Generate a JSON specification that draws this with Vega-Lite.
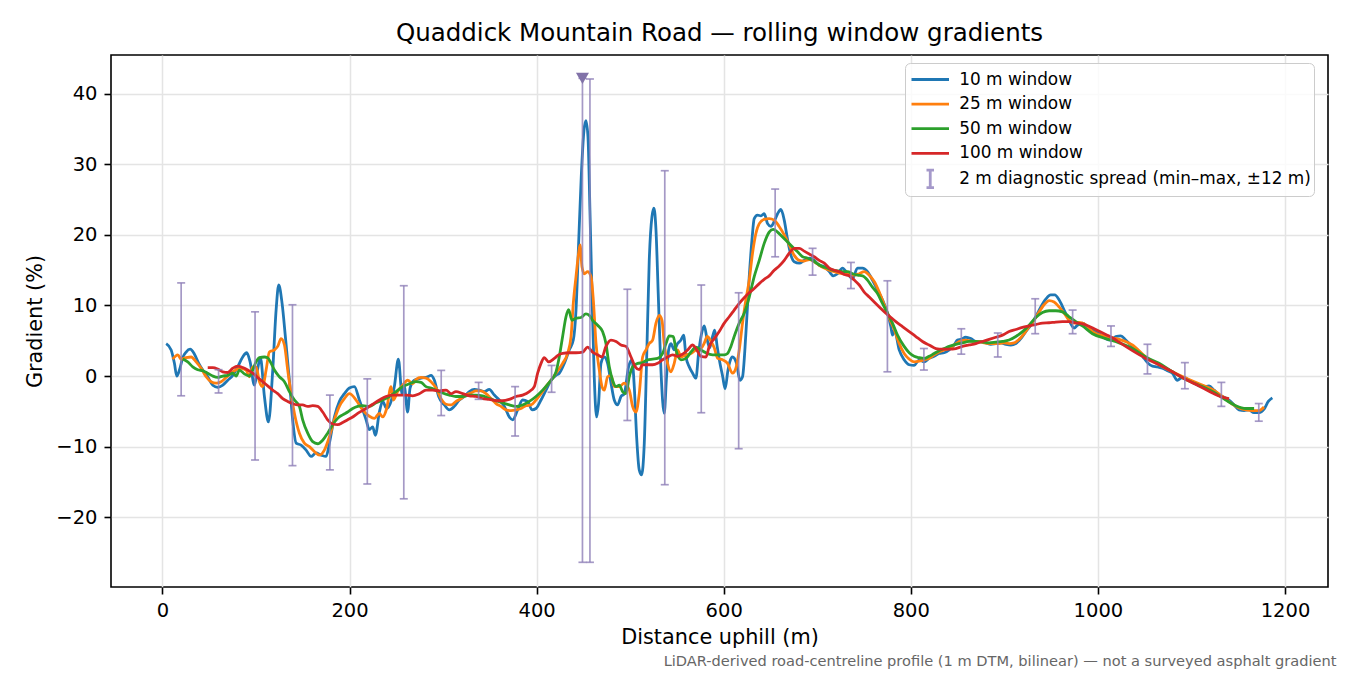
{
"$schema": "https://vega.github.io/schema/vega-lite/v6.json",
"width": 1217, "height": 532,
"autosize": {"type": "none"},
"padding": {"left": 111, "top": 55, "right": 22, "bottom": 88},
"background": "white",
"title": {"text": "Quaddick Mountain Road — rolling window gradients", "fontSize": 24.5, "font": "DejaVu Sans", "fontWeight": "normal", "color": "#000000", "anchor": "middle", "baseline": "alphabetic", "offset": -10},
"config": {
  "font": "DejaVu Sans",
  "view": {"stroke": "#000000", "strokeWidth": 1.6},
  "axis": {"labelFont": "DejaVu Sans", "labelFontSize": 19.5, "labelColor": "#000000", "titleFont": "DejaVu Sans", "titleFontSize": 20.8, "titleFontWeight": "normal", "titleColor": "#000000", "tickColor": "#000000", "tickSize": 7, "tickWidth": 1.6, "domain": false, "grid": true, "gridColor": "#e4e4e4", "gridWidth": 1.5, "labelPadding": 6},
  "legend": {"orient": "none", "legendX": 794, "legendY": 8, "padding": 2.5, "rowPadding": 2.6, "symbolSize": 625, "symbolStrokeWidth": 2.8, "symbolOpacity": 1, "symbolOffset": 8.75, "labelOffset": 15, "labelFontSize": 16.9, "labelFont": "DejaVu Sans", "labelColor": "#000000", "labelLimit": 600, "strokeColor": "#cccccc", "fillColor": "rgba(255,255,255,0.8)", "cornerRadius": 5, "symbolFillColor": "transparent"}
},
"datasets": {
"w10": [
{"x":4,"y":4.6},{"x":9.3,"y":3.7},{"x":12.8,"y":1.8},{"x":15.3,"y":0.0},{"x":18.2,"y":0.85},{"x":21.7,"y":2.6},{"x":25.3,"y":3.4},{"x":29.6,"y":3.8},{"x":34.2,"y":3.1},{"x":38.8,"y":1.8},{"x":43.1,"y":0.85},{"x":48.4,"y":-0.1},{"x":53.8,"y":-1.3},{"x":59.1,"y":-1.6},{"x":64.5,"y":-1.3},{"x":69.8,"y":-0.6},{"x":75.2,"y":0.1},{"x":80.5,"y":1.3},{"x":85.8,"y":2.7},{"x":90.1,"y":3.3},{"x":93.7,"y":2.0},{"x":98.3,"y":-1.3},{"x":101.5,"y":0.8},{"x":104.7,"y":2.6},{"x":109,"y":-2.9},{"x":113.3,"y":-6.5},{"x":117.9,"y":0.85},{"x":121.5,"y":9.35},{"x":124.3,"y":12.9},{"x":127.9,"y":10.3},{"x":131.4,"y":5.6},{"x":135.7,"y":-0.6},{"x":139.2,"y":-6.2},{"x":142.9,"y":-9.5},{"x":148.2,"y":-9.8},{"x":153.6,"y":-10.5},{"x":158.9,"y":-11.4},{"x":164.2,"y":-10.9},{"x":169.6,"y":-11.2},{"x":174.9,"y":-11.4},{"x":178.5,"y":-9.5},{"x":183.8,"y":-5.8},{"x":189.1,"y":-3.6},{"x":194.5,"y":-2.5},{"x":199.8,"y":-1.7},{"x":205.2,"y":-1.5},{"x":210.5,"y":-3.4},{"x":217.7,"y":-6.2},{"x":221.2,"y":-7.6},{"x":224.7,"y":-7.2},{"x":227.6,"y":-8.4},{"x":231.9,"y":-5.1},{"x":235.4,"y":-3.6},{"x":239.7,"y":-4.6},{"x":244.4,"y":-3.6},{"x":247.9,"y":-1.5},{"x":252.2,"y":2.4},{"x":256.1,"y":-2.5},{"x":258.6,"y":-1.5},{"x":262.1,"y":-5.1},{"x":264.7,"y":-1.7},{"x":269.3,"y":-0.6},{"x":276.4,"y":-0.3},{"x":283.5,"y":-0.1},{"x":287.1,"y":0.1},{"x":290.7,"y":-0.6},{"x":295.3,"y":-2.9},{"x":301.4,"y":-4.1},{"x":306.7,"y":-4.8},{"x":312,"y":-4.3},{"x":317.4,"y":-3.4},{"x":322.7,"y":-2.9},{"x":328.1,"y":-2.2},{"x":333.4,"y":-1.9},{"x":338.7,"y":-2.0},{"x":344.1,"y":-2.2},{"x":349.4,"y":-1.9},{"x":354.8,"y":-2.7},{"x":360.1,"y":-3.4},{"x":365.5,"y":-4.3},{"x":370.8,"y":-5.8},{"x":374.4,"y":-6.2},{"x":379.7,"y":-4.8},{"x":385,"y":-3.4},{"x":390.4,"y":-3.6},{"x":395.1,"y":-4.8},{"x":399.3,"y":-4.6},{"x":404.7,"y":-3.4},{"x":410,"y":-2.0},{"x":415.4,"y":-0.6},{"x":420.7,"y":0.1},{"x":424.2,"y":0.4},{"x":429.6,"y":1.8},{"x":434.9,"y":3.7},{"x":439.2,"y":5.1},{"x":442.1,"y":9.35},{"x":444.9,"y":18.8},{"x":447.7,"y":28.2},{"x":450.6,"y":34.8},{"x":452.7,"y":36.2},{"x":454.9,"y":33.9},{"x":457,"y":23.5},{"x":459.2,"y":11.7},{"x":461.6,"y":-0.1},{"x":464.1,"y":-5.8},{"x":466.2,"y":-3.9},{"x":468.8,"y":1.8},{"x":472.3,"y":2.7},{"x":475.9,"y":1.8},{"x":479.5,"y":-1.0},{"x":483,"y":-3.4},{"x":486.6,"y":-4.1},{"x":490.2,"y":-2.9},{"x":493.7,"y":-2.5},{"x":498.3,"y":1.3},{"x":501.9,"y":2.3},{"x":504.4,"y":-1.5},{"x":506.9,"y":-8.6},{"x":509.7,"y":-13.3},{"x":512.2,"y":-14.0},{"x":515.1,"y":-9.5},{"x":517.6,"y":2.3},{"x":520.4,"y":16.4},{"x":523.3,"y":22.6},{"x":525.4,"y":23.8},{"x":527.6,"y":20.7},{"x":530,"y":11.7},{"x":532.9,"y":0.85},{"x":536.4,"y":-5.3},{"x":538.9,"y":-0.1},{"x":541.1,"y":3.7},{"x":543.6,"y":4.6},{"x":547.1,"y":3.7},{"x":550.7,"y":4.6},{"x":554.3,"y":5.1},{"x":557.1,"y":5.8},{"x":559.7,"y":2.7},{"x":563.2,"y":1.3},{"x":566.8,"y":0.4},{"x":570.3,"y":-0.3},{"x":573.1,"y":3.2},{"x":576.3,"y":6.0},{"x":579.2,"y":7.1},{"x":582.1,"y":5.3},{"x":585,"y":4.0},{"x":588.1,"y":5.6},{"x":590.4,"y":6.5},{"x":593,"y":4.2},{"x":596,"y":1.8},{"x":598.8,"y":0},{"x":601.5,"y":-1.8},{"x":604.5,"y":0.8},{"x":606.5,"y":2.0},{"x":609.4,"y":2.7},{"x":613.7,"y":1.8},{"x":617.3,"y":-0.6},{"x":620.1,"y":-0.1},{"x":623.7,"y":6.0},{"x":627.3,"y":14.1},{"x":630.2,"y":19.3},{"x":632.6,"y":22.3},{"x":636.2,"y":22.8},{"x":639.8,"y":22.7},{"x":643.3,"y":23.0},{"x":646.9,"y":21.6},{"x":650.5,"y":21.2},{"x":654,"y":21.9},{"x":657.6,"y":23.0},{"x":661.2,"y":23.6},{"x":664.7,"y":22.1},{"x":668.3,"y":19.3},{"x":671.9,"y":17.1},{"x":675.4,"y":16.2},{"x":680.8,"y":16.0},{"x":686.1,"y":16.4},{"x":691.4,"y":16.7},{"x":696.8,"y":16.4},{"x":702.1,"y":15.7},{"x":707.5,"y":15.5},{"x":712.8,"y":14.8},{"x":717.1,"y":14.2},{"x":721.7,"y":14.5},{"x":727,"y":15.3},{"x":732.4,"y":14.5},{"x":737.7,"y":13.8},{"x":743,"y":15.3},{"x":748.4,"y":15.3},{"x":753.7,"y":14.8},{"x":759,"y":13.6},{"x":764.4,"y":12.2},{"x":769.7,"y":10.8},{"x":775.1,"y":8.9},{"x":778.7,"y":7.0},{"x":780.4,"y":5.8},{"x":782.5,"y":6.5},{"x":787.6,"y":3.7},{"x":792.9,"y":2.3},{"x":798.3,"y":1.6},{"x":803.6,"y":1.5},{"x":809,"y":2.3},{"x":814.3,"y":2.0},{"x":819.6,"y":2.5},{"x":825,"y":2.8},{"x":830.3,"y":3.2},{"x":835.7,"y":3.3},{"x":841,"y":3.7},{"x":846.3,"y":4.4},{"x":849.9,"y":5.1},{"x":853.5,"y":5.2},{"x":858.8,"y":5.5},{"x":864.2,"y":5.3},{"x":869.5,"y":4.9},{"x":874.9,"y":4.9},{"x":880.2,"y":4.7},{"x":885.5,"y":4.5},{"x":890.9,"y":4.6},{"x":896.2,"y":4.7},{"x":901.6,"y":4.5},{"x":906.9,"y":4.4},{"x":912.3,"y":4.6},{"x":917.6,"y":5.3},{"x":922.9,"y":6.3},{"x":928.3,"y":7.2},{"x":933.6,"y":8.4},{"x":939,"y":9.8},{"x":944.3,"y":10.9},{"x":949.6,"y":11.5},{"x":953.9,"y":11.5},{"x":958.5,"y":10.8},{"x":963.9,"y":9.35},{"x":969.2,"y":7.9},{"x":974.6,"y":6.8},{"x":978.1,"y":7.2},{"x":983.5,"y":7.5},{"x":988.8,"y":7.0},{"x":994,"y":6.5},{"x":1001.3,"y":6.0},{"x":1008.4,"y":5.3},{"x":1013.8,"y":5.1},{"x":1019.1,"y":5.6},{"x":1024.5,"y":5.7},{"x":1029.8,"y":5.1},{"x":1035.2,"y":4.4},{"x":1040.5,"y":3.9},{"x":1045.8,"y":3.2},{"x":1049.4,"y":2.5},{"x":1053,"y":1.9},{"x":1058.3,"y":1.4},{"x":1063.6,"y":1.3},{"x":1069,"y":1.1},{"x":1074.3,"y":0.75},{"x":1079.7,"y":0.4},{"x":1085,"y":-0.6},{"x":1088.6,"y":-0.3},{"x":1092.1,"y":-0.2},{"x":1097.5,"y":-0.6},{"x":1102.8,"y":-1.0},{"x":1108.2,"y":-1.4},{"x":1113.5,"y":-1.5},{"x":1118.8,"y":-1.4},{"x":1124.2,"y":-2.0},{"x":1129.5,"y":-2.7},{"x":1134.9,"y":-3.0},{"x":1140.2,"y":-3.4},{"x":1145.6,"y":-4.1},{"x":1150.9,"y":-4.8},{"x":1156.3,"y":-4.9},{"x":1161.6,"y":-4.8},{"x":1166.9,"y":-5.2},{"x":1172.3,"y":-5.2},{"x":1177.6,"y":-4.7},{"x":1182.2,"y":-3.6},{"x":1186.5,"y":-3.1}
],
"w25": [
{"x":11,"y":2.4},{"x":16.4,"y":3.0},{"x":20,"y":2.4},{"x":25.3,"y":2.6},{"x":30.7,"y":2.7},{"x":36,"y":2.0},{"x":41.4,"y":1.1},{"x":46.7,"y":-0.1},{"x":52,"y":-0.8},{"x":57.4,"y":-1.0},{"x":62.7,"y":-0.8},{"x":68.1,"y":-0.2},{"x":73.4,"y":0.4},{"x":78.8,"y":0.9},{"x":84.1,"y":1.1},{"x":89.4,"y":0.85},{"x":93,"y":-0.1},{"x":96.5,"y":1.3},{"x":100.1,"y":1.3},{"x":103.7,"y":-0.8},{"x":107.2,"y":-1.5},{"x":110.8,"y":0.85},{"x":114.3,"y":3.4},{"x":119.7,"y":3.7},{"x":123.2,"y":4.2},{"x":126.8,"y":5.3},{"x":130.4,"y":4.4},{"x":133.9,"y":0.85},{"x":137.5,"y":-2.5},{"x":141.1,"y":-5.3},{"x":146.4,"y":-8.1},{"x":151.7,"y":-9.5},{"x":157.1,"y":-10.0},{"x":162.4,"y":-10.7},{"x":167.8,"y":-11.2},{"x":173.1,"y":-10.5},{"x":178.5,"y":-8.6},{"x":183.8,"y":-6.2},{"x":189.1,"y":-4.3},{"x":194.5,"y":-3.2},{"x":199.8,"y":-2.5},{"x":207,"y":-3.4},{"x":214,"y":-4.8},{"x":221.2,"y":-5.7},{"x":226.5,"y":-6.0},{"x":231.9,"y":-5.3},{"x":235.4,"y":-5.8},{"x":239.7,"y":-4.6},{"x":244.4,"y":-1.5},{"x":246.9,"y":-3.4},{"x":251.4,"y":-2.2},{"x":256.8,"y":-1.3},{"x":262.1,"y":-0.6},{"x":267.5,"y":-1.1},{"x":271.1,"y":-0.5},{"x":276.4,"y":-0.2},{"x":281.8,"y":-0.3},{"x":287.1,"y":-0.8},{"x":292.5,"y":-1.7},{"x":297.8,"y":-3.2},{"x":303.2,"y":-4.0},{"x":308.5,"y":-4.1},{"x":313.8,"y":-3.6},{"x":319.2,"y":-3.2},{"x":324.5,"y":-2.7},{"x":329.9,"y":-2.4},{"x":335.2,"y":-2.1},{"x":340.6,"y":-2.1},{"x":345.9,"y":-2.5},{"x":351.3,"y":-3.2},{"x":356.6,"y":-3.9},{"x":361.9,"y":-4.3},{"x":367.3,"y":-4.8},{"x":372.6,"y":-4.9},{"x":378,"y":-4.8},{"x":383.3,"y":-4.6},{"x":388.7,"y":-4.2},{"x":394,"y":-4.1},{"x":399.3,"y":-3.4},{"x":404.7,"y":-2.5},{"x":410,"y":-1.5},{"x":415.4,"y":-0.6},{"x":420.7,"y":0.4},{"x":427.8,"y":1.8},{"x":433.1,"y":3.2},{"x":436.8,"y":5.6},{"x":439.2,"y":10.3},{"x":442.1,"y":14.1},{"x":444.9,"y":17.4},{"x":446.4,"y":18.6},{"x":448.5,"y":15.5},{"x":451,"y":14.5},{"x":454.5,"y":14.8},{"x":458.1,"y":14.1},{"x":460.6,"y":10.8},{"x":463.5,"y":4.6},{"x":467,"y":0.85},{"x":469.9,"y":-1.5},{"x":472.3,"y":-2.0},{"x":475.9,"y":-0.1},{"x":479.5,"y":0.1},{"x":483,"y":-1.5},{"x":488.4,"y":-1.5},{"x":493.7,"y":-1.0},{"x":499.1,"y":-2.0},{"x":502.6,"y":-4.3},{"x":506.2,"y":-5.1},{"x":509.7,"y":-2.5},{"x":513.3,"y":2.7},{"x":516.9,"y":3.7},{"x":520.4,"y":4.6},{"x":524,"y":5.1},{"x":527.6,"y":7.5},{"x":531.1,"y":8.6},{"x":534,"y":7.9},{"x":536.4,"y":4.6},{"x":540,"y":1.8},{"x":543.6,"y":0.6},{"x":547.1,"y":1.8},{"x":550.7,"y":3.7},{"x":554.3,"y":2.7},{"x":559.7,"y":3.0},{"x":565,"y":3.2},{"x":570.3,"y":3.7},{"x":575.7,"y":3.9},{"x":579,"y":4.6},{"x":582.5,"y":5.6},{"x":586,"y":5.0},{"x":589.9,"y":4.0},{"x":593.5,"y":2.5},{"x":598.8,"y":2.3},{"x":604.1,"y":1.8},{"x":609.4,"y":0.4},{"x":613,"y":1.1},{"x":616.6,"y":3.7},{"x":620.1,"y":7.5},{"x":623.7,"y":10.8},{"x":627.3,"y":13.6},{"x":630.8,"y":17.4},{"x":634.4,"y":20.2},{"x":638,"y":21.6},{"x":643.3,"y":22.2},{"x":648.6,"y":22.3},{"x":654,"y":22.1},{"x":659.3,"y":21.2},{"x":664.7,"y":20.0},{"x":670,"y":18.6},{"x":675.4,"y":17.1},{"x":680.8,"y":16.4},{"x":686.1,"y":16.3},{"x":691.4,"y":16.5},{"x":696.8,"y":16.2},{"x":702.1,"y":15.7},{"x":707.5,"y":15.3},{"x":712.8,"y":15.0},{"x":718.2,"y":14.8},{"x":723.5,"y":14.6},{"x":728.9,"y":14.5},{"x":734.2,"y":14.5},{"x":739.6,"y":14.3},{"x":744.9,"y":14.5},{"x":750.2,"y":14.8},{"x":755.6,"y":14.3},{"x":760.9,"y":13.4},{"x":766.3,"y":11.9},{"x":771.6,"y":10.1},{"x":777,"y":8.2},{"x":782.3,"y":6.6},{"x":787.6,"y":4.6},{"x":792.9,"y":3.2},{"x":798.3,"y":2.4},{"x":803.6,"y":2.0},{"x":809,"y":2.1},{"x":814.3,"y":2.3},{"x":819.6,"y":2.5},{"x":825,"y":3.0},{"x":830.3,"y":3.4},{"x":835.7,"y":3.7},{"x":841,"y":3.9},{"x":846.3,"y":4.4},{"x":851.7,"y":4.9},{"x":857,"y":5.1},{"x":862.4,"y":5.0},{"x":867.7,"y":4.9},{"x":873.1,"y":4.9},{"x":878.4,"y":4.7},{"x":883.8,"y":4.6},{"x":889.1,"y":4.6},{"x":894.4,"y":4.6},{"x":899.8,"y":4.7},{"x":905.1,"y":4.6},{"x":910.5,"y":4.7},{"x":915.8,"y":5.2},{"x":921.2,"y":6.0},{"x":926.5,"y":7.0},{"x":931.8,"y":7.9},{"x":937.2,"y":9.1},{"x":942.5,"y":10.1},{"x":947.9,"y":10.7},{"x":953.2,"y":10.5},{"x":958.5,"y":9.8},{"x":963.9,"y":8.9},{"x":969.2,"y":7.9},{"x":974.6,"y":7.5},{"x":979.9,"y":7.6},{"x":985.3,"y":7.4},{"x":994.2,"y":6.3},{"x":1008.4,"y":5.6},{"x":1022.7,"y":5.2},{"x":1036.9,"y":4.4},{"x":1051.2,"y":2.7},{"x":1065.4,"y":1.6},{"x":1079.7,"y":0.6},{"x":1094,"y":-0.3},{"x":1108.2,"y":-1.1},{"x":1122.5,"y":-1.9},{"x":1133.2,"y":-2.9},{"x":1143.9,"y":-4.0},{"x":1154.6,"y":-4.7},{"x":1165.3,"y":-4.9},{"x":1172.3,"y":-4.9},{"x":1177.6,"y":-4.4}
],
"w50": [
{"x":21.7,"y":2.4},{"x":27,"y":2.0},{"x":32.4,"y":1.3},{"x":37.7,"y":0.9},{"x":43.1,"y":0.75},{"x":48.4,"y":0.4},{"x":53.8,"y":0.0},{"x":59.1,"y":-0.2},{"x":64.5,"y":0.0},{"x":69.8,"y":0.1},{"x":75.2,"y":0.4},{"x":78.8,"y":0.0},{"x":82.3,"y":0.85},{"x":87.6,"y":0.3},{"x":93,"y":0.0},{"x":96.5,"y":0.85},{"x":100.1,"y":2.0},{"x":103.7,"y":2.6},{"x":109,"y":2.7},{"x":112.5,"y":2.6},{"x":116.2,"y":1.8},{"x":119.7,"y":0.85},{"x":125,"y":-0.1},{"x":130.4,"y":-0.8},{"x":135.7,"y":-2.2},{"x":141.1,"y":-3.4},{"x":146.4,"y":-4.3},{"x":149.9,"y":-6.2},{"x":155.3,"y":-8.1},{"x":160.6,"y":-9.3},{"x":166,"y":-9.6},{"x":171.3,"y":-9.1},{"x":176.6,"y":-8.1},{"x":182,"y":-6.9},{"x":187.3,"y":-6.0},{"x":192.7,"y":-5.5},{"x":198,"y":-5.1},{"x":203.4,"y":-4.6},{"x":208.7,"y":-4.3},{"x":214,"y":-4.2},{"x":221.2,"y":-4.3},{"x":228.4,"y":-3.8},{"x":235.4,"y":-3.4},{"x":242.6,"y":-2.9},{"x":249.7,"y":-2.2},{"x":256.8,"y":-1.5},{"x":264,"y":-1.1},{"x":271.1,"y":-0.8},{"x":276.4,"y":-0.9},{"x":281.8,"y":-1.5},{"x":287.1,"y":-1.7},{"x":292.5,"y":-2.0},{"x":299.5,"y":-2.4},{"x":306.7,"y":-2.7},{"x":313.8,"y":-2.9},{"x":320.9,"y":-2.9},{"x":328.1,"y":-2.7},{"x":335.2,"y":-2.7},{"x":342.3,"y":-2.8},{"x":349.4,"y":-3.2},{"x":356.6,"y":-3.5},{"x":363.7,"y":-3.8},{"x":370.8,"y":-4.1},{"x":378,"y":-4.3},{"x":385,"y":-4.1},{"x":392.2,"y":-3.6},{"x":399.3,"y":-2.9},{"x":406.4,"y":-2.0},{"x":413.6,"y":-0.9},{"x":420.7,"y":0.6},{"x":424.2,"y":2.7},{"x":427.8,"y":5.6},{"x":431.4,"y":8.4},{"x":434.2,"y":9.4},{"x":437.8,"y":7.9},{"x":442.1,"y":8.2},{"x":447.4,"y":8.3},{"x":452.7,"y":8.8},{"x":456.3,"y":8.6},{"x":459.8,"y":7.9},{"x":465.2,"y":7.2},{"x":470.5,"y":6.3},{"x":474.1,"y":4.6},{"x":477.7,"y":1.3},{"x":481.2,"y":-0.6},{"x":484.9,"y":-1.5},{"x":488.4,"y":-1.3},{"x":491.9,"y":-2.2},{"x":495.5,"y":-2.5},{"x":499.1,"y":-0.1},{"x":502.6,"y":1.3},{"x":508,"y":1.8},{"x":513.3,"y":1.9},{"x":518.6,"y":2.3},{"x":524,"y":2.4},{"x":529.3,"y":2.5},{"x":534.7,"y":3.2},{"x":538.3,"y":4.6},{"x":541.8,"y":5.7},{"x":546.1,"y":5.6},{"x":549,"y":3.7},{"x":554.3,"y":2.3},{"x":559.7,"y":2.5},{"x":565,"y":3.4},{"x":570.3,"y":4.1},{"x":575.7,"y":3.7},{"x":581,"y":3.3},{"x":588.1,"y":3.0},{"x":595.2,"y":3.0},{"x":600.6,"y":3.0},{"x":604.1,"y":3.2},{"x":607.7,"y":4.2},{"x":611.2,"y":5.6},{"x":616.6,"y":7.5},{"x":621.9,"y":8.9},{"x":627.3,"y":11.2},{"x":632.6,"y":14.1},{"x":638,"y":16.4},{"x":643.3,"y":18.8},{"x":648.6,"y":20.4},{"x":652.9,"y":20.8},{"x":657.6,"y":20.4},{"x":662.9,"y":19.7},{"x":668.3,"y":19.0},{"x":673.6,"y":18.3},{"x":679,"y":17.6},{"x":684.3,"y":16.9},{"x":689.7,"y":16.7},{"x":695,"y":16.4},{"x":700.4,"y":15.9},{"x":705.7,"y":15.5},{"x":711,"y":15.3},{"x":716.4,"y":15.0},{"x":721.7,"y":14.9},{"x":727,"y":14.8},{"x":732.4,"y":14.8},{"x":737.7,"y":14.5},{"x":743,"y":14.3},{"x":748.4,"y":14.2},{"x":753.7,"y":13.6},{"x":759,"y":12.6},{"x":764.4,"y":11.7},{"x":769.7,"y":10.3},{"x":775.1,"y":8.9},{"x":780.4,"y":7.5},{"x":785.8,"y":5.8},{"x":792.9,"y":4.2},{"x":798.3,"y":3.3},{"x":803.6,"y":2.8},{"x":809,"y":2.6},{"x":814.3,"y":2.5},{"x":819.6,"y":2.8},{"x":825,"y":3.2},{"x":830.3,"y":3.6},{"x":835.7,"y":3.9},{"x":841,"y":4.2},{"x":848.1,"y":4.5},{"x":855.2,"y":4.7},{"x":862.4,"y":4.9},{"x":869.5,"y":4.9},{"x":876.6,"y":4.8},{"x":883.8,"y":4.7},{"x":890.9,"y":4.8},{"x":898,"y":4.9},{"x":905.1,"y":5.1},{"x":912.3,"y":5.6},{"x":919.4,"y":6.3},{"x":926.5,"y":7.2},{"x":933.6,"y":8.3},{"x":940.7,"y":9.0},{"x":947.9,"y":9.25},{"x":955,"y":9.25},{"x":962.1,"y":9.1},{"x":969.2,"y":8.4},{"x":976.4,"y":7.7},{"x":983.5,"y":7.1},{"x":994.2,"y":6.0},{"x":1008.4,"y":5.3},{"x":1022.7,"y":4.7},{"x":1036.9,"y":3.9},{"x":1051.2,"y":2.7},{"x":1065.4,"y":1.8},{"x":1079.7,"y":0.6},{"x":1094,"y":-0.5},{"x":1108.2,"y":-1.3},{"x":1122.5,"y":-2.2},{"x":1136.7,"y":-3.4},{"x":1147.4,"y":-4.2},{"x":1158.1,"y":-4.6},{"x":1167,"y":-4.6}
],
"w100": [
{"x":48.4,"y":1.2},{"x":53.8,"y":1.2},{"x":59.1,"y":1.0},{"x":64.5,"y":0.6},{"x":69.8,"y":0.5},{"x":75.2,"y":1.1},{"x":80.5,"y":1.4},{"x":85.8,"y":1.2},{"x":91.2,"y":0.85},{"x":96.5,"y":0.4},{"x":101.8,"y":-0.2},{"x":107.2,"y":-0.8},{"x":112.5,"y":-1.4},{"x":117.9,"y":-2.0},{"x":123.2,"y":-2.5},{"x":128.6,"y":-3.2},{"x":133.9,"y":-3.6},{"x":139.2,"y":-3.9},{"x":144.6,"y":-4.1},{"x":149.9,"y":-4.1},{"x":155.3,"y":-4.3},{"x":160.6,"y":-4.2},{"x":166,"y":-4.3},{"x":171.3,"y":-5.1},{"x":176.6,"y":-6.2},{"x":182,"y":-6.8},{"x":187.3,"y":-6.9},{"x":192.7,"y":-6.6},{"x":198,"y":-6.2},{"x":203.4,"y":-5.8},{"x":208.7,"y":-5.3},{"x":217.7,"y":-4.6},{"x":224.7,"y":-4.0},{"x":231.9,"y":-3.4},{"x":239,"y":-2.9},{"x":246.1,"y":-2.7},{"x":253.3,"y":-2.7},{"x":260.4,"y":-2.7},{"x":267.5,"y":-2.8},{"x":274.6,"y":-2.5},{"x":281.8,"y":-2.0},{"x":288.9,"y":-2.0},{"x":296,"y":-2.1},{"x":303.2,"y":-2.0},{"x":308.5,"y":-2.5},{"x":313.8,"y":-2.2},{"x":320.9,"y":-2.5},{"x":328.1,"y":-2.8},{"x":335.2,"y":-2.9},{"x":342.3,"y":-3.2},{"x":349.4,"y":-3.3},{"x":356.6,"y":-3.5},{"x":363.7,"y":-3.5},{"x":370.8,"y":-3.3},{"x":378,"y":-2.9},{"x":385,"y":-2.7},{"x":392.2,"y":-2.2},{"x":397.5,"y":-1.5},{"x":401.1,"y":0.4},{"x":404.7,"y":1.8},{"x":408.2,"y":2.6},{"x":412.8,"y":2.0},{"x":418.9,"y":2.5},{"x":423.5,"y":3.0},{"x":427.8,"y":3.2},{"x":434.9,"y":3.3},{"x":442.1,"y":3.3},{"x":449.2,"y":3.4},{"x":454.5,"y":4.1},{"x":459.8,"y":3.4},{"x":465.2,"y":3.0},{"x":469.9,"y":2.7},{"x":474.1,"y":4.2},{"x":479.5,"y":5.1},{"x":484.9,"y":4.9},{"x":490.2,"y":4.4},{"x":495.5,"y":4.2},{"x":500.9,"y":2.7},{"x":505.5,"y":1.3},{"x":509.7,"y":0.9},{"x":513.3,"y":1.6},{"x":518.6,"y":1.6},{"x":524,"y":1.6},{"x":529.3,"y":1.8},{"x":534.7,"y":2.3},{"x":540,"y":2.7},{"x":545.4,"y":3.0},{"x":550.7,"y":2.8},{"x":556,"y":3.1},{"x":561.4,"y":3.7},{"x":566.8,"y":4.4},{"x":570.3,"y":3.9},{"x":575.7,"y":2.8},{"x":581,"y":2.7},{"x":584.5,"y":4.2},{"x":589.9,"y":5.3},{"x":595.2,"y":6.3},{"x":600.6,"y":7.5},{"x":605.9,"y":8.4},{"x":611.2,"y":9.35},{"x":616.6,"y":10.3},{"x":621.9,"y":11.1},{"x":627.3,"y":11.8},{"x":632.6,"y":12.4},{"x":638,"y":13.1},{"x":643.3,"y":13.7},{"x":648.6,"y":14.2},{"x":654,"y":15.0},{"x":659.3,"y":15.6},{"x":664.7,"y":16.4},{"x":670,"y":17.4},{"x":675.4,"y":18.1},{"x":680.8,"y":18.1},{"x":686.1,"y":17.7},{"x":691.4,"y":17.3},{"x":696.8,"y":16.9},{"x":702.1,"y":16.4},{"x":707.5,"y":16.0},{"x":712.8,"y":15.3},{"x":718.2,"y":15.0},{"x":723.5,"y":14.8},{"x":728.9,"y":14.4},{"x":734.2,"y":14.2},{"x":739.6,"y":13.6},{"x":744.9,"y":12.9},{"x":750.2,"y":11.9},{"x":755.6,"y":11.2},{"x":760.9,"y":10.5},{"x":766.3,"y":9.8},{"x":771.6,"y":9.1},{"x":777,"y":8.5},{"x":784,"y":7.7},{"x":791.1,"y":7.0},{"x":798.3,"y":6.3},{"x":805.4,"y":5.6},{"x":812.5,"y":4.9},{"x":819.6,"y":4.4},{"x":826.8,"y":3.9},{"x":833.9,"y":3.8},{"x":841,"y":3.8},{"x":848.1,"y":3.9},{"x":855.2,"y":4.2},{"x":862.4,"y":4.4},{"x":869.5,"y":4.6},{"x":876.6,"y":4.9},{"x":883.8,"y":5.2},{"x":890.9,"y":5.5},{"x":898,"y":5.8},{"x":905.1,"y":6.3},{"x":912.3,"y":6.6},{"x":919.4,"y":6.9},{"x":926.5,"y":7.1},{"x":933.6,"y":7.3},{"x":940.7,"y":7.5},{"x":947.9,"y":7.55},{"x":955,"y":7.65},{"x":962.1,"y":7.7},{"x":969.2,"y":7.7},{"x":976.4,"y":7.55},{"x":983.5,"y":7.4},{"x":989.9,"y":7.1},{"x":996,"y":6.7},{"x":1008.4,"y":5.9},{"x":1016,"y":5.4},{"x":1022.7,"y":4.8},{"x":1036.9,"y":3.6},{"x":1051.2,"y":2.5},{"x":1065.4,"y":1.6},{"x":1079.7,"y":0.6},{"x":1094,"y":-0.5},{"x":1108.2,"y":-1.4},{"x":1122.5,"y":-2.4},{"x":1133.2,"y":-3.0},{"x":1140.2,"y":-3.2}
],
"spread": [
{"x":20,"lo":-2.8,"hi":13.2},{"x":60,"lo":-2.4,"hi":0.9},{"x":99,"lo":-11.9,"hi":9.1},{"x":139,"lo":-12.7,"hi":10.1},{"x":179,"lo":-13.3,"hi":-2.7},{"x":219,"lo":-15.3,"hi":-0.4},{"x":258,"lo":-17.4,"hi":12.8},{"x":298,"lo":-5.6,"hi":0.8},{"x":338,"lo":-3.3,"hi":-0.9},{"x":377,"lo":-8.5,"hi":-1.5},{"x":416,"lo":-2.3,"hi":1.5},{"x":449,"lo":-26.4,"hi":42.2},{"x":457,"lo":-26.4,"hi":42.1},{"x":497,"lo":-6.3,"hi":12.3},{"x":537,"lo":-15.4,"hi":29.1},{"x":576,"lo":-5.2,"hi":12.9},{"x":616,"lo":-10.3,"hi":11.8},{"x":655,"lo":16.9,"hi":26.5},{"x":695,"lo":14.3,"hi":18.1},{"x":736,"lo":12.4,"hi":16.1},{"x":775,"lo":0.6,"hi":13.5},{"x":814,"lo":0.85,"hi":3.9},{"x":854,"lo":3.1,"hi":6.7},{"x":893,"lo":2.7,"hi":6.1},{"x":933,"lo":6.0,"hi":10.95},{"x":973,"lo":6.0,"hi":9.35},{"x":1014,"lo":4.2,"hi":7.1},{"x":1053,"lo":0.3,"hi":4.5},{"x":1093,"lo":-1.8,"hi":1.9},{"x":1132,"lo":-4.3,"hi":-0.9},{"x":1172,"lo":-6.4,"hi":-3.9}
],
"marker": [{"x":449,"y":42.2}],
"legendItems": [{"s":"10 m window"},{"s":"25 m window"},{"s":"50 m window"},{"s":"100 m window"},{"s":"2 m diagnostic spread (min–max, ±12 m)"}]
},
"resolve": {"axis": {"x": "independent"}},
"layer": [
{"data": {"name": "w10"}, "mark": {"type": "line", "strokeWidth": 2.8, "interpolate": "monotone", "color": "#1f77b4"},
 "encoding": {
  "x": {"field": "x", "type": "quantitative", "scale": {"domain": [-55, 1246], "nice": false, "zero": false}, "axis": {"values": [0,200,400,600,800,1000,1200], "format": "d", "title": "Distance uphill (m)", "titlePadding": 8, "labelPadding": 7}},
  "y": {"field": "y", "type": "quantitative", "scale": {"domain": [-29.9, 45.5], "nice": false, "zero": false}, "axis": {"values": [-20,-10,0,10,20,30,40], "format": "d", "title": "Gradient (%)", "titlePadding": 10, "labelPadding": 7}}
 }},
{"data": {"name": "w25"}, "mark": {"type": "line", "strokeWidth": 2.8, "interpolate": "monotone", "color": "#ff7f0e"},
 "encoding": {
  "x": {"field": "x", "type": "quantitative", "axis": null},
  "y": {"field": "y", "type": "quantitative"}
 }},
{"data": {"name": "w50"}, "mark": {"type": "line", "strokeWidth": 2.8, "interpolate": "monotone", "color": "#2ca02c"},
 "encoding": {
  "x": {"field": "x", "type": "quantitative", "axis": null},
  "y": {"field": "y", "type": "quantitative"}
 }},
{"data": {"name": "w100"}, "mark": {"type": "line", "strokeWidth": 2.8, "interpolate": "monotone", "color": "#d62728"},
 "encoding": {
  "x": {"field": "x", "type": "quantitative", "axis": null},
  "y": {"field": "y", "type": "quantitative"}
 }},
{"data": {"name": "spread"}, "mark": {"type": "rule", "color": "#8e80b8", "opacity": 0.8, "strokeWidth": 1.7},
 "encoding": {
  "x": {"field": "x", "type": "quantitative", "axis": null},
  "y": {"field": "lo", "type": "quantitative"},
  "y2": {"field": "hi"}
 }},
{"data": {"name": "spread"}, "mark": {"type": "tick", "orient": "horizontal", "color": "#8e80b8", "opacity": 0.8, "size": 8, "thickness": 1.7},
 "encoding": {
  "x": {"field": "x", "type": "quantitative", "axis": null},
  "y": {"field": "lo", "type": "quantitative"}
 }},
{"data": {"name": "spread"}, "mark": {"type": "tick", "orient": "horizontal", "color": "#8e80b8", "opacity": 0.8, "size": 8, "thickness": 1.7},
 "encoding": {
  "x": {"field": "x", "type": "quantitative", "axis": null},
  "y": {"field": "hi", "type": "quantitative"}
 }},
{"data": {"name": "marker"}, "mark": {"type": "point", "shape": "triangle-down", "filled": true, "color": "#8172a8", "opacity": 1, "size": 170},
 "encoding": {
  "x": {"field": "x", "type": "quantitative", "axis": {"orient": "bottom", "offset": 66, "domain": false, "ticks": false, "labels": false, "grid": false, "title": "LiDAR-derived road-centreline profile (1 m DTM, bilinear) — not a surveyed asphalt gradient", "titleFontSize": 14.6, "titleColor": "#666666", "titleFontWeight": "normal", "titlePadding": 0, "titleX": 1225, "titleAlign": "right", "titleBaseline": "top"}},
  "y": {"field": "y", "type": "quantitative"}
 }},
{"data": {"name": "legendItems"}, "mark": {"type": "point", "filled": false, "opacity": 0},
 "encoding": {
  "x": {"datum": 500, "type": "quantitative", "axis": null},
  "y": {"datum": 0, "type": "quantitative"},
  "color": {"field": "s", "type": "nominal", "scale": {"domain": ["10 m window","25 m window","50 m window","100 m window","2 m diagnostic spread (min–max, ±12 m)"], "range": ["#1f77b4","#ff7f0e","#2ca02c","#d62728","#a599ca"]}, "legend": {"title": null}},
  "shape": {"field": "s", "type": "nominal", "scale": {"domain": ["10 m window","25 m window","50 m window","100 m window","2 m diagnostic spread (min–max, ±12 m)"], "range": ["M-1.5,0H1.5","M-1.5,0H1.5","M-1.5,0H1.5","M-1.5,0H1.5","M0,-0.7V0.7M-0.3,-0.7H0.3M-0.3,0.7H0.3"]}, "legend": {"title": null}}
 }}
]
}
